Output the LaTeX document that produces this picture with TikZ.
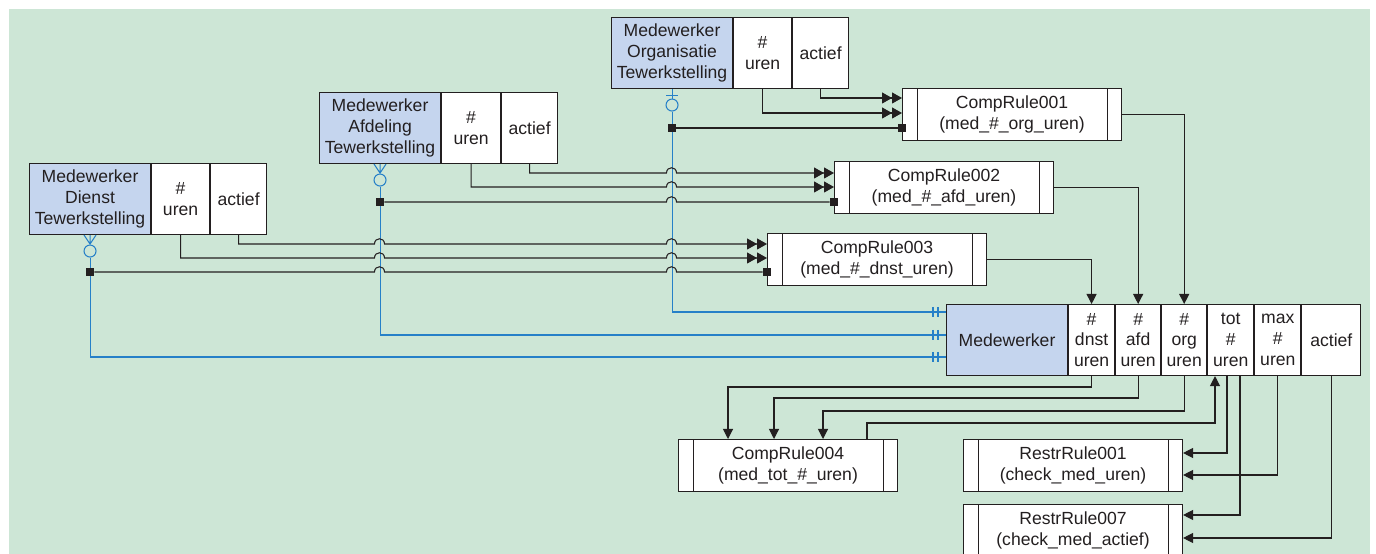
\documentclass[tikz,border=0pt]{standalone}
\usepackage{fontspec}
\setmainfont{Liberation Sans}
\usetikzlibrary{arrows.meta,positioning,calc}
\definecolor{bggreen}{RGB}{205,230,214}
\definecolor{entblue}{RGB}{197,213,238}
\definecolor{relblue}{RGB}{38,128,200}
\definecolor{ink}{RGB}{35,31,32}
\tikzset{
  attr/.style = { draw=ink, fill=white, line width=0.6pt, inner sep=0pt, align=center,
    minimum height=71*0.2mm, anchor=north west, text=ink,
    font=\fontsize{10}{11.8}\selectfont },
  ent/.style  = { attr, fill=entblue },
  rulebox/.style = { draw=ink, fill=white, line width=0.6pt, inner sep=0pt, align=center,
    minimum width=219*0.2mm, minimum height=52*0.2mm, anchor=north west, text=ink,
    font=\fontsize{10}{11.8}\selectfont,
    path picture={\draw[ink, line width=0.6pt]
      ([xshift=2.9mm]path picture bounding box.north west) -- ([xshift=2.9mm]path picture bounding box.south west)
      ([xshift=-2.9mm]path picture bounding box.north east) -- ([xshift=-2.9mm]path picture bounding box.south east);} },
  sq/.style   = { fill=ink, minimum size=1.6mm, inner sep=0pt },
  ring/.style = { circle, draw=relblue, line width=0.6pt, minimum size=2.4mm, inner sep=0pt },
  flow/.style = { draw=ink, line width=0.6pt },
  to1/.style  = { flow, -{Triangle[length=2mm,width=2mm]} },
  to2/.style  = { flow, -{Triangle[length=2mm,width=2.2mm,sep=0pt]Triangle[length=2mm,width=2.2mm]} },
  rel/.style  = { draw=relblue, line width=0.6pt }
}
% sprongetje over een blauwe lijn
\newcommand\hop[2]{-- (#1-5,#2) .. controls (#1-5,#2-7) and (#1+5,#2-7) .. (#1+5,#2)}

\begin{document}
\begin{tikzpicture}[x=0.2mm,y=-0.2mm]
  \useasboundingbox (0,0) rectangle (1376,554);
  \fill[bggreen] (9,9) rectangle (1370,554);

  % tewerkstellingen
  \node[ent, minimum width=121*0.2mm] (orgE) at (611,17) {Medewerker\\Organisatie\\Tewerkstelling};
  \node[attr, minimum width=58*0.2mm] (orgU) at (orgE.north east) {\#\\uren};
  \node[attr, minimum width=56*0.2mm] (orgA) at (orgU.north east) {actief};

  \node[ent, minimum width=121*0.2mm] (afdE) at (319,92) {Medewerker\\Afdeling\\Tewerkstelling};
  \node[attr, minimum width=59*0.2mm] (afdU) at (afdE.north east) {\#\\uren};
  \node[attr, minimum width=56*0.2mm] (afdA) at (afdU.north east) {actief};

  \node[ent, minimum width=121*0.2mm] (dstE) at (29,163) {Medewerker\\Dienst\\Tewerkstelling};
  \node[attr, minimum width=58*0.2mm] (dstU) at (dstE.north east) {\#\\uren};
  \node[attr, minimum width=56*0.2mm] (dstA) at (dstU.north east) {actief};

  % medewerker
  \node[ent, minimum width=121*0.2mm] (medE) at (946,304) {Medewerker};
  \node[attr, minimum width=46*0.2mm] (medD) at (medE.north east) {\#\\dnst\\uren};
  \node[attr, minimum width=45*0.2mm] (medA) at (medD.north east) {\#\\afd\\uren};
  \node[attr, minimum width=45*0.2mm] (medO) at (medA.north east) {\#\\org\\uren};
  \node[attr, minimum width=46*0.2mm] (medT) at (medO.north east) {tot\\\#\\uren};
  \node[attr, minimum width=46*0.2mm] (medM) at (medT.north east) {max\\\#\\uren};
  \node[attr, minimum width=59*0.2mm] (medAc) at (medM.north east) {actief};

  % regels
  \node[rulebox] (cr1) at (902,88)  {CompRule001\\(med\_\#\_org\_uren)};
  \node[rulebox] (cr2) at (834,161) {CompRule002\\(med\_\#\_afd\_uren)};
  \node[rulebox] (cr3) at (767,233) {CompRule003\\(med\_\#\_dnst\_uren)};
  \node[rulebox] (cr4) at (678,439) {CompRule004\\(med\_tot\_\#\_uren)};
  \node[rulebox] (rr1) at (963,439) {RestrRule001\\(check\_med\_uren)};
  \node[rulebox] (rr7) at (963,504) {RestrRule007\\(check\_med\_actief)};

  % relaties
  \node[ring] (orgO) at ($(orgE.south)+(0,16)$) {};
  \node[ring] (afdO) at ($(afdE.south)+(0,16)$) {};
  \node[ring] (dstO) at ($(dstE.south)+(0,16)$) {};
  \draw[rel] (orgE.south) -- (orgO) ($(orgE.south)+(-6,6)$) -- ++(12,0);
  \draw[rel] ($(afdE.south)+(-6,0)$) -- ($(afdE.south)+(0,9)$) -- ($(afdE.south)+(6,0)$)
             (afdE.south) -- (afdO);
  \draw[rel] ($(dstE.south)+(-6,0)$) -- ($(dstE.south)+(0,9)$) -- ($(dstE.south)+(6,0)$)
             (dstE.south) -- (dstO);
  \draw[rel] (orgO) |- (medE.west |- 0,312);
  \draw[rel] (afdO) |- (medE.west |- 0,335);
  \draw[rel] (dstO) |- (medE.west |- 0,357);
  \foreach \y in {312,335,357}
    \draw[rel] (933,\y-5) -- (933,\y+5) (938,\y-5) -- (938,\y+5);

  % organisatie -> CompRule001
  \draw[to2] (orgA.south) |- (cr1.west |- 0,98);
  \draw[to2] (orgU.south) |- (cr1.west |- 0,113);
  \node[sq] (sqO1) at (orgE.south |- 0,128) {};
  \node[sq] (sqO2) at (cr1.west |- 0,128) {};
  \draw[flow] (sqO1) -- (sqO2);

  % afdeling -> CompRule002
  \draw[to2] (afdA.south) -- (afdA.south |- 0,173) \hop{671.5}{173} -- (cr2.west |- 0,173);
  \draw[to2] (afdU.south) -- (afdU.south |- 0,187) \hop{671.5}{187} -- (cr2.west |- 0,187);
  \node[sq] (sqA1) at (afdE.south |- 0,202) {};
  \node[sq] (sqA2) at (cr2.west |- 0,202) {};
  \draw[flow] (sqA1) \hop{671.5}{202} -- (sqA2);

  % dienst -> CompRule003
  \draw[to2] (dstA.south) -- (dstA.south |- 0,244) \hop{379.5}{244} \hop{671.5}{244} -- (cr3.west |- 0,244);
  \draw[to2] (dstU.south) -- (dstU.south |- 0,258) \hop{379.5}{258} \hop{671.5}{258} -- (cr3.west |- 0,258);
  \node[sq] (sqD1) at (dstE.south |- 0,272) {};
  \node[sq] (sqD2) at (cr3.west |- 0,272) {};
  \draw[flow] (sqD1) \hop{379.5}{272} \hop{671.5}{272} -- (sqD2);

  % regels -> medewerker
  \draw[to1] (cr1.east) -| (medO.north);
  \draw[to1] (cr2.east) -| (medA.north);
  \draw[to1] (cr3.east) -| (medD.north);

  % medewerker -> CompRule004 -> tot # uren
  \draw[to1] (medD.south) |- (728,387) -- (cr4.north -| 728,0);
  \draw[to1] (medA.south) |- (774,398) -- (cr4.north -| 774,0);
  \draw[to1] (medO.south) |- (823,411) -- (cr4.north -| 823,0);
  \draw[to1] (cr4.north -| 867,0) |- (1215,423) -- (medT.south -| 1215,0);

  % medewerker -> restricties
  \draw[to1] (medT.south -| 1227,0) |- (rr1.east |- 0,453);
  \draw[to1] (medM.south) |- (rr1.east |- 0,475);
  \draw[to1] (medT.south -| 1240,0) |- (rr7.east |- 0,515);
  \draw[to1] (medAc.south) |- (rr7.east |- 0,538);
\end{tikzpicture}
\end{document}
